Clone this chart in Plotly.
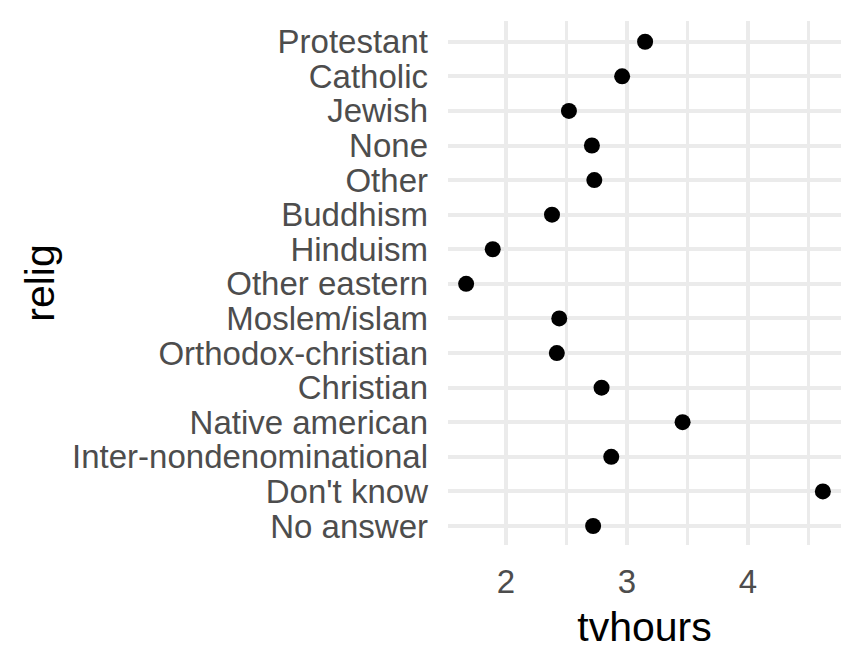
import plotly.graph_objects as go

# religions in factor order (first one ends up at the bottom)
relig = ["No answer", "Don't know", "Inter-nondenominational", "Native american",
         "Christian", "Orthodox-christian", "Moslem/islam", "Other eastern",
         "Hinduism", "Buddhism", "Other", "None", "Jewish", "Catholic", "Protestant"]
# mean tv hours per religion
tvhours = [2.72, 4.62, 2.87, 3.46, 2.79, 2.42, 2.44, 1.67,
           1.89, 2.38, 2.73, 2.71, 2.52, 2.96, 3.15]

fig = go.Figure()

fig.add_trace(go.Scatter(
    x=tvhours,
    y=relig,
    mode="markers",
    marker=dict(color="black", size=16),
    hoverinfo="x+y",
))

grid = "#EBEBEB"

# page body has an 8px margin, so the figure is a bit smaller than the window
fig.update_layout(
    width=856,
    height=664,
    margin=dict(l=440, r=23, t=13, b=127),
    paper_bgcolor="white",
    plot_bgcolor="white",
    showlegend=False,
    font=dict(family="Liberation Sans, Arial, sans-serif", color="#4D4D4D"),
    xaxis=dict(
        range=[1.52, 4.77],
        tickvals=[2, 3, 4],
        showgrid=True,
        gridcolor=grid,
        gridwidth=4,
        minor=dict(tickvals=[2.5, 3.5, 4.5], showgrid=True, gridcolor=grid, gridwidth=3),
        zeroline=False,
        showline=False,
        ticks="",
        automargin=False,
        ticklabelstandoff=14,
        tickfont=dict(size=33, color="#4D4D4D"),
        title=dict(text="tvhours", font=dict(size=41, color="black"), standoff=13),
    ),
    yaxis=dict(
        type="category",
        categoryorder="array",
        categoryarray=relig,
        tickmode="array",
        tickvals=relig,
        range=[-0.55, 14.6],
        showgrid=True,
        gridcolor=grid,
        gridwidth=4,
        zeroline=False,
        showline=False,
        ticks="",
        automargin=False,
        ticklabelstandoff=19,
        tickfont=dict(size=33, color="#4D4D4D"),
        title=dict(text="relig", font=dict(size=41, color="black"), standoff=4),
    ),
)

fig.write_html("out.html")
